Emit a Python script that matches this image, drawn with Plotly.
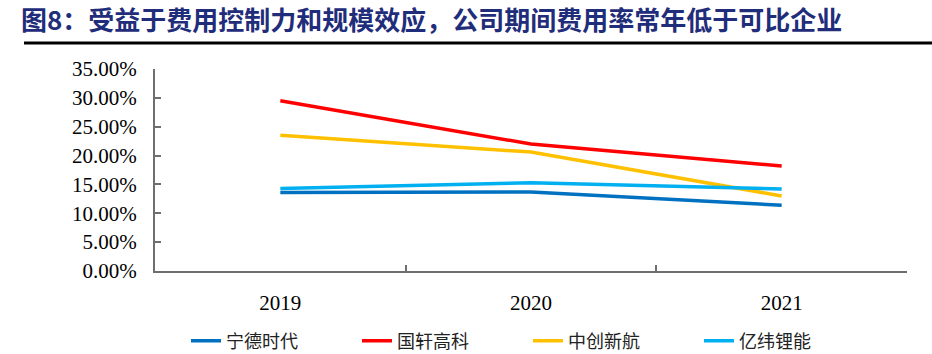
import plotly.graph_objects as go

years = ["2019", "2020", "2021"]
catl = [0.136, 0.137, 0.114]       # 宁德时代
gotion = [0.295, 0.220, 0.182]     # 国轩高科
calb = [0.235, 0.206, 0.130]       # 中创新航
eve = [0.143, 0.153, 0.142]        # 亿纬锂能
names = ["宁德时代", "国轩高科", "中创新航", "亿纬锂能"]
colors = ["#0070C0", "#FF0000", "#FFC000", "#00B0F0"]
y_ticks = [0, 0.05, 0.10, 0.15, 0.20, 0.25, 0.30, 0.35]

W, H = 932, 354
L, R, T, B = 155, 25, 69, 83
pw = W - L - R
ph = H - T - B

fig = go.Figure()
for name, vals, c in zip(names, [catl, gotion, calb, eve], colors):
    fig.add_trace(go.Scatter(x=years, y=vals, mode="lines", name=name,
                             line=dict(color=c, width=3.5)))

fig.update_layout(
    width=W, height=H,
    margin=dict(l=L, r=R, t=T, b=B, autoexpand=False),
    plot_bgcolor="white", paper_bgcolor="white",
    title=dict(text="图8：受益于费用控制力和规模效应，公司期间费用率常年低于可比企业",
               x=21 / W, xanchor="left", y=1 - 21 / H, yanchor="middle",
               font=dict(family="Noto Sans CJK SC", size=26, color="#1F2D7B",
                         weight="bold")),
    showlegend=True,
    legend=dict(orientation="h", x=(186 - L) / pw, xanchor="left",
                y=-(341 - (T + ph)) / ph, yanchor="middle",
                font=dict(family="Noto Sans CJK SC", size=18, color="#222222"),
                entrywidth=126, entrywidthmode="pixels",
                bgcolor="rgba(0,0,0,0)"),
    xaxis=dict(type="category", range=[-0.5, 2.5], showline=True,
               linecolor="#6E6E6E", linewidth=2, ticks="inside",
               tickson="boundaries", ticklen=6, tickcolor="#6E6E6E", tickwidth=2,
               showgrid=False, zeroline=False,
               tickfont=dict(family="Liberation Serif", size=21, color="black"),
               ticklabelstandoff=12),
    yaxis=dict(range=[0, 0.35], tickvals=y_ticks, tickformat=".2%",
               showline=True, linecolor="#6E6E6E", linewidth=2,
               ticks="inside", ticklen=6, tickcolor="#6E6E6E", tickwidth=2,
               showgrid=False, zeroline=False,
               tickfont=dict(family="Liberation Serif", size=21, color="black"),
               ticklabelstandoff=12),
    shapes=[dict(type="line", xref="paper", yref="paper",
                 x0=(24 - L) / pw, x1=(W - L) / pw,
                 y0=(T + ph - 43) / ph, y1=(T + ph - 43) / ph,
                 line=dict(color="black", width=3))],
)

fig.write_html("out.html")
